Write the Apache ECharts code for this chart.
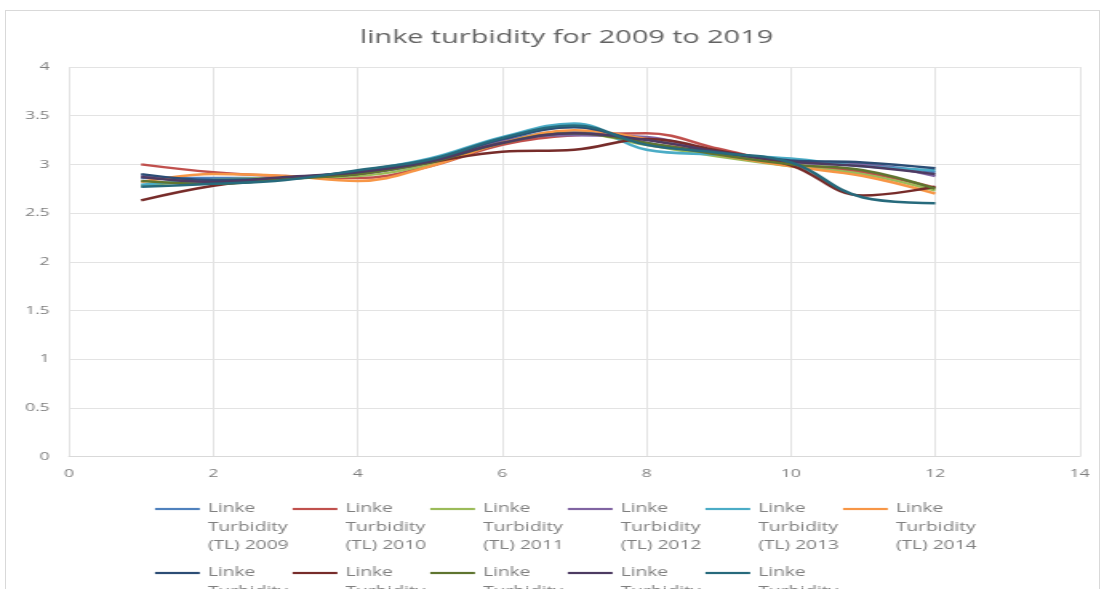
<!DOCTYPE html>
<html>
<head>
<meta charset="utf-8">
<title>linke turbidity for 2009 to 2019</title>
<script src="https://cdn.jsdelivr.net/npm/echarts@6/dist/echarts.min.js"></script>
<style>
  html, body { margin: 0; padding: 0; background: #ffffff; overflow: hidden; width: 1107px; height: 589px; }
  #frame { position: absolute; left: 5px; top: 10px; width: 1095px; height: 600px; border: 1px solid #d9d9d9; box-sizing: border-box; }
  /* the chart is laid out narrow and stretched sideways to give its wide lettering */
  #chart { position: absolute; left: 0; top: 0; width: 692px; height: 589px; transform: scaleX(1.6); transform-origin: 0 0; }
</style>
</head>
<body>
<div id="frame"></div>
<div id="chart"></div>
<script>
// months on the x axis
const months = [1, 2, 3, 4, 5, 6, 7, 8, 9, 10, 11, 12];

// monthly Linke turbidity (TL), one list per year
const tl2009 = [2.86, 2.86, 2.86, 2.90, 3.02, 3.24, 3.34, 3.26, 3.12, 3.03, 3.00, 2.92];
const tl2010 = [3.00, 2.92, 2.88, 2.86, 2.98, 3.20, 3.30, 3.32, 3.16, 3.00, 2.92, 2.76];
const tl2011 = [2.78, 2.84, 2.86, 2.88, 3.00, 3.22, 3.32, 3.20, 3.08, 2.98, 2.90, 2.73];
const tl2012 = [2.88, 2.82, 2.86, 2.90, 3.02, 3.24, 3.30, 3.28, 3.12, 3.02, 3.00, 2.88];
const tl2013 = [2.79, 2.84, 2.85, 2.93, 3.06, 3.28, 3.42, 3.15, 3.10, 3.06, 2.98, 2.94];
const tl2014 = [2.82, 2.90, 2.88, 2.83, 2.98, 3.22, 3.35, 3.26, 3.10, 2.98, 2.88, 2.70];
const tl2015 = [2.90, 2.84, 2.86, 2.93, 3.04, 3.26, 3.38, 3.22, 3.12, 3.04, 3.02, 2.96];
const tl2016 = [2.63, 2.78, 2.86, 2.90, 3.02, 3.13, 3.15, 3.26, 3.14, 2.99, 2.68, 2.77];
const tl2017 = [2.83, 2.80, 2.85, 2.90, 3.02, 3.22, 3.32, 3.22, 3.10, 3.00, 2.94, 2.75];
const tl2018 = [2.87, 2.82, 2.87, 2.92, 3.03, 3.22, 3.32, 3.25, 3.13, 3.03, 2.98, 2.90];
const tl2019 = [2.77, 2.80, 2.84, 2.94, 3.05, 3.27, 3.40, 3.20, 3.12, 3.02, 2.66, 2.60];

const years = [2009, 2010, 2011, 2012, 2013, 2014, 2015, 2016, 2017, 2018, 2019];
const yearValues = [tl2009, tl2010, tl2011, tl2012, tl2013, tl2014, tl2015, tl2016, tl2017, tl2018, tl2019];
const seriesNames = years.map(y => 'Linke Turbidity (TL) ' + y);

const palette = ['#4F81BD', '#C0504D', '#9BBB59', '#8064A2', '#4BACC6', '#F79646',
                 '#2C4D75', '#772C2A', '#5F7530', '#4D3B62', '#276A7C'];

const font = '"Open Sans", "Noto Sans", sans-serif';
const labelGrey = '#7f7f7f';
const gridGrey = '#e3e3e3';

const chart = echarts.init(document.getElementById('chart'), null, { renderer: 'canvas' });

chart.setOption({
  animation: false,
  backgroundColor: 'transparent',
  color: palette,
  title: {
    text: 'linke turbidity for 2009 to 2019',
    left: 220,
    top: 21,
    textStyle: { fontFamily: font, fontSize: 18, fontWeight: 'normal', color: '#626262', lineHeight: 24 }
  },
  grid: { left: 43.1, right: 17.2, top: 67, bottom: 132.5, containLabel: false },
  xAxis: {
    type: 'value',
    min: 0, max: 14, interval: 2,
    axisLine: { show: true, lineStyle: { color: '#d9d9d9', width: 1 } },
    axisTick: { show: false },
    axisLabel: { fontFamily: font, fontSize: 11, color: labelGrey, margin: 12 },
    splitLine: { show: true, lineStyle: { color: gridGrey, width: 1 } }
  },
  yAxis: {
    type: 'value',
    min: 0, max: 4, interval: 0.5,
    axisLine: { show: false },
    axisTick: { show: false },
    axisLabel: { fontFamily: font, fontSize: 11, color: labelGrey, margin: 12 },
    splitLine: { show: true, lineStyle: { color: gridGrey, width: 1 } }
  },
  legend: {
    orient: 'horizontal',
    left: 96.9,
    top: 496.5,
    width: 520,
    padding: 0,
    itemGap: 2,
    itemWidth: 28,
    itemHeight: 62,
    icon: 'path://M0,0M0,62M0,11.4H28V13.6H0Z',
    itemStyle: { borderWidth: 0 },
    selectedMode: false,
    formatter: name => name.replace('Linke Turbidity (TL) ', 'Linke\nTurbidity\n(TL) '),
    textStyle: { fontFamily: font, fontSize: 12, color: labelGrey, lineHeight: 18.5, width: 51, overflow: 'none' },
    data: seriesNames
  },
  series: yearValues.map((vals, i) => ({
    name: seriesNames[i],
    type: 'line',
    smooth: 0.4,
    symbol: 'none',
    lineStyle: { width: 2.5 },
    emphasis: { disabled: true },
    data: months.map((m, k) => [m, vals[k]])
  }))
});
</script>
</body>
</html>
